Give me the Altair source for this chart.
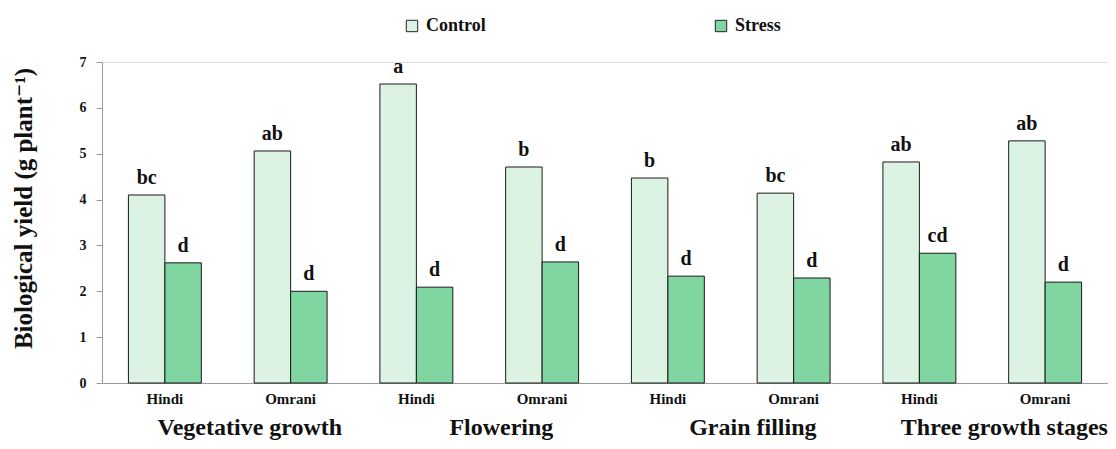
import altair as alt
import pandas as pd

stages = ["Vegetative growth", "Flowering", "Grain filling", "Three growth stages"]
cultivars = ["Hindi", "Omrani"]
control = [4.10, 5.06, 6.52, 4.71, 4.47, 4.14, 4.82, 5.28]
stress = [2.62, 2.00, 2.09, 2.64, 2.33, 2.29, 2.83, 2.20]
control_letters = ["bc", "ab", "a", "b", "b", "bc", "ab", "ab"]
stress_letters = ["d", "d", "d", "d", "d", "d", "cd", "d"]
treatments = ["Control", "Stress"]

ids = []
rows = []
k = 0
for s_i, st in enumerate(stages):
    for cv in cultivars:
        gid = f"{cv}|{s_i}"
        ids.append(gid)
        rows.append({"id": gid, "treat": "Control", "value": control[k], "letter": control_letters[k]})
        rows.append({"id": gid, "treat": "Stress", "value": stress[k], "letter": stress_letters[k]})
        k += 1
df = pd.DataFrame(rows)
stage_df = pd.DataFrame({"id": [f"Hindi|{i}" for i in range(len(stages))], "stage": stages})

W, H = 1006, 321
SERIF = "'Times New Roman', 'Liberation Serif', 'DejaVu Serif', serif"

xenc = alt.X(
    "id:N", sort=ids, title=None,
    scale=alt.Scale(paddingInner=0.42, paddingOuter=0.21),
    axis=alt.Axis(labelExpr="split(datum.label, '|')[0]", labelAngle=0, ticks=False,
                  domainColor="#999999", labelFont=SERIF, labelFontWeight="bold",
                  labelFontSize=15, labelPadding=8, labelColor="#111111"),
)
xoff = alt.XOffset("treat:N", sort=treatments, scale=alt.Scale(paddingInner=0, paddingOuter=0))

color = alt.Color(
    "treat:N", sort=treatments,
    scale=alt.Scale(domain=treatments, range=["#dcf3e3", "#7fd6a0"]),
    legend=alt.Legend(title=None, orient="none", direction="horizontal",
                      legendX=301, legendY=-45, symbolType="square", symbolSize=130,
                      symbolStrokeColor="#222222", symbolStrokeWidth=1,
                      labelFont=SERIF, labelFontWeight="bold", labelFontSize=18,
                      labelColor="#111111", columnPadding=226, labelOffset=5),
)

bars = alt.Chart(df).mark_bar(stroke="#1a1a1a", strokeWidth=1).encode(
    x=xenc, xOffset=xoff,
    y=alt.Y("value:Q", scale=alt.Scale(domain=[0, 7]),
            title="Biological yield (g plant⁻¹)",
            axis=alt.Axis(values=list(range(8)), format="d", grid=False,
                          domainColor="#999999", tickColor="#999999", tickSize=6,
                          labelFont=SERIF, labelFontWeight="bold", labelFontSize=14,
                          labelColor="#111111", labelPadding=10,
                          titleFont=SERIF, titleFontWeight="bold", titleFontSize=25,
                          titleColor="#111111", titleX=-66, titleY=146)),
    color=color,
)

letters = alt.Chart(df).mark_text(
    font=SERIF, fontWeight="bold", fontSize=20, baseline="bottom", dy=-7, color="#111111"
).encode(x=xenc, xOffset=xoff, y="value:Q", text="letter:N")

stage_text = alt.Chart(stage_df).mark_text(
    font=SERIF, fontWeight="bold", fontSize=24, baseline="alphabetic", dx=85, color="#111111"
).encode(x=alt.X("id:N", sort=ids), y=alt.value(H + 52), text="stage:N")

chart = alt.layer(bars, letters, stage_text).properties(
    width=W, height=H,
    autosize=alt.AutoSizeParams(type="none"),
    padding={"left": 94, "top": 54, "right": 0, "bottom": 58},
).configure_view(stroke=None).configure(background="white")

chart.save("out.html", embed_options={"renderer": "svg", "actions": False})
